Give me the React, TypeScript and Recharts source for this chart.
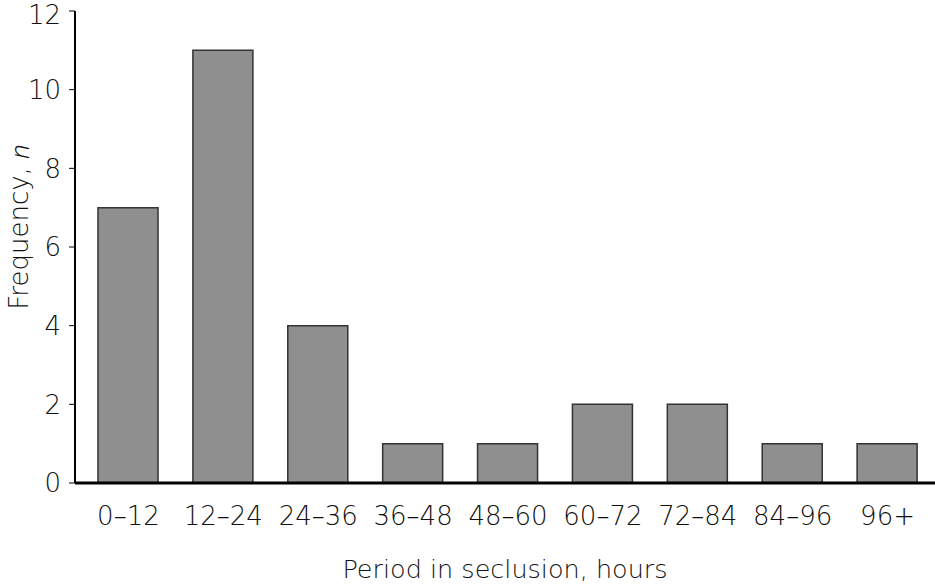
import React from 'react';
import { Bar, BarChart, Label, XAxis, YAxis } from 'recharts';

const periods = ['0–12', '12–24', '24–36', '36–48', '48–60', '60–72', '72–84', '84–96', '96+'];
const frequency = [7, 11, 4, 1, 1, 2, 2, 1, 1];
const yTicks = [0, 2, 4, 6, 8, 10, 12];

const data = periods.map((p, i) => ({ period: p, n: frequency[i] }));

const font = "'DejaVu Sans', sans-serif";
const textColor = '#111';
const textStyle = { fill: textColor, fontSize: 26, fontFamily: font, fontWeight: 300 };

const YTitle = (props: any) => {
  const { viewBox } = props;
  const cx = 19;
  const cy = viewBox.y + viewBox.height / 2 - 20;
  return (
    <text
      x={cx}
      y={cy}
      transform={`rotate(-90 ${cx} ${cy})`}
      textAnchor='middle'
      dominantBaseline='central'
      style={textStyle}
    >
      Frequency, <tspan fontStyle='italic' fontFamily="'Open Sans', sans-serif" fontWeight={300}>n</tspan>
    </text>
  );
};

const App = () => {
  return (
    <div style={{ position: 'absolute', left: 0, top: 0, background: '#fff' }}>
      <BarChart
        width={935}
        height={584}
        data={data}
        margin={{ top: 11, right: 0, left: 0, bottom: 0 }}
      >
        <XAxis
          dataKey='period'
          tickLine={false}
          axisLine={{ stroke: '#000', strokeWidth: 3 }}
          tick={textStyle}
          tickMargin={18}
          height={101}
          padding={{ left: 6, right: 0 }}
        >
          <Label
            value='Period in seclusion, hours'
            position='insideBottom'
            offset={6}
            style={{ ...textStyle, fontSize: 25.5 }}
          />
        </XAxis>
        <YAxis
          domain={[0, 12]}
          ticks={yTicks}
          width={75}
          tickSize={6}
          tickLine={{ stroke: '#000' }}
          axisLine={{ stroke: '#000', strokeWidth: 2 }}
          tick={textStyle}
          tickMargin={8}
        >
          <Label content={<YTitle />} />
        </YAxis>
        <Bar
          dataKey='n'
          fill='#8f8f8f'
          stroke='#333'
          strokeWidth={1.5}
          barSize={60}
          isAnimationActive={false}
        />
      </BarChart>
    </div>
  );
};

export default App;
